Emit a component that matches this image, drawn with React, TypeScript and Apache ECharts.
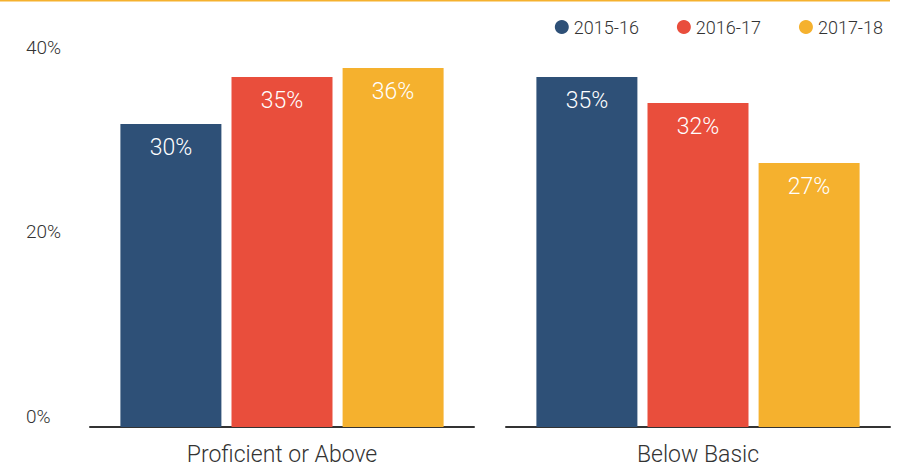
import React, { useEffect, useRef } from "react";
import * as echarts from "echarts";

const groups = ["Proficient or Above", "Below Basic"];
const seriesNames = ["2015-16", "2016-17", "2017-18"];
const colors = ["#2e5077", "#e94e3c", "#f5b12e"];
// values per series: [Proficient or Above, Below Basic]
const values2015 = [30.3, 35.0];
const values2016 = [35.0, 32.4];
const values2017 = [35.9, 26.4];
const labels2015 = ["30%", "35%"];
const labels2016 = ["35%", "32%"];
const labels2017 = ["36%", "27%"];
const yTicks = [0, 20, 40];

const FONT = "Roboto, 'Liberation Sans', Arial, sans-serif";

export default function App() {
  const ref = useRef<HTMLDivElement>(null);
  useEffect(() => {
    document.body.style.margin = "0";
    if (!ref.current) return;
    const chart = echarts.init(ref.current, null, { renderer: "svg" });
    const valueSets = [values2015, values2016, values2017];
    const labelSets = [labels2015, labels2016, labels2017];

    const series: any[] = [];
    groups.forEach((g, gi) => {
      seriesNames.forEach((name, si) => {
        series.push({
          type: "bar",
          name,
          xAxisIndex: gi,
          yAxisIndex: gi,
          data: [valueSets[si][gi]],
          barWidth: 101,
          barGap: "10%",
          itemStyle: { color: colors[si] },
          label: {
            show: true,
            position: "insideTop",
            distance: 12,
            color: "#ffffff",
            fontSize: 23,
            fontFamily: FONT,
            fontWeight: 300,
            formatter: () => labelSets[si][gi],
          },
        });
      });
    });

    const catAxis = (gi: number) => ({
      type: "category",
      gridIndex: gi,
      data: [groups[gi]],
      axisTick: { show: false },
      axisLine: { show: true, lineStyle: { color: "#333", width: 2 } },
      axisLabel: {
        margin: 16,
        fontSize: 23,
        lineHeight: 22,
        color: "#333",
        fontFamily: FONT,
        fontWeight: 300,
      },
    });
    const valAxis = (gi: number) => ({
      type: "value",
      gridIndex: gi,
      min: 0,
      max: 40,
      show: false,
      splitLine: { show: false },
    });

    chart.setOption({
      animation: false,
      legend: {
        data: seriesNames,
        right: 17,
        top: 13,
        icon: "circle",
        itemWidth: 14,
        itemHeight: 14,
        itemGap: 38,
        textStyle: { fontSize: 18, color: "#333", fontFamily: FONT, fontWeight: 300 },
      },
      grid: [
        { left: 90, width: 384, top: 27, bottom: 40 },
        { left: 506, width: 384, top: 27, bottom: 40 },
        { left: 26, width: 1, top: 47, bottom: 51 },
      ],
      xAxis: [
        catAxis(0),
        catAxis(1),
        { type: "value", gridIndex: 2, show: false },
      ],
      yAxis: [
        valAxis(0),
        valAxis(1),
        {
          type: "value",
          gridIndex: 2,
          min: yTicks[0],
          max: yTicks[yTicks.length - 1],
          interval: yTicks[1] - yTicks[0],
          axisLine: { show: false },
          axisTick: { show: false },
          splitLine: { show: false },
          axisLabel: {
            inside: true,
            margin: 0,
            align: "left",
            fontSize: 19,
            color: "#333",
            fontFamily: FONT,
            fontWeight: 300,
            formatter: (v: number) => `${v}%`,
          },
        },
      ],
      graphic: [
        {
          type: "line",
          shape: { x1: 0, y1: 0.75, x2: 890, y2: 0.75 },
          style: { stroke: "#f5b12e", lineWidth: 1.5 },
        },
      ],
      series,
    });
    return () => chart.dispose();
  }, []);
  return <div ref={ref} style={{ width: 905, height: 467 }} />;
}
